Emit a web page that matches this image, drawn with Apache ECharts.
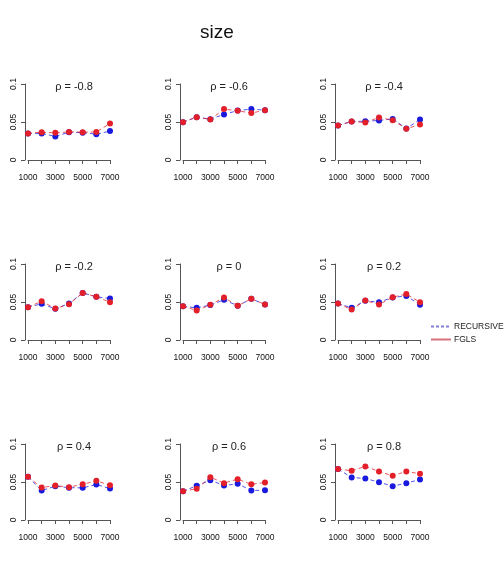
<!DOCTYPE html>
<html><head><meta charset="utf-8">
<script src="https://cdn.jsdelivr.net/npm/echarts@6/dist/echarts.min.js"></script>
<style>html,body{margin:0;padding:0;background:#fff}#c{width:504px;height:570px}</style>
</head><body><div id="c"></div>
<script>
const sampleSizes = [1000, 2000, 3000, 4000, 5000, 6000, 7000];
const xTickLabels = ['1000', '3000', '5000', '7000'];
const yTickLabels = ['0', '0.05', '0.1'];
const rhoTitles = ['ρ = -0.8', 'ρ = -0.6', 'ρ = -0.4', 'ρ = -0.2', 'ρ = 0', 'ρ = 0.2', 'ρ = 0.4', 'ρ = 0.6', 'ρ = 0.8'];

const recursive_m08 = [0.035, 0.035, 0.031, 0.0366, 0.036, 0.034, 0.038];
const fgls_m08      = [0.035, 0.0366, 0.0357, 0.037, 0.0366, 0.037, 0.048];
const recursive_m06 = [0.0498, 0.0564, 0.0537, 0.060, 0.065, 0.067, 0.0656];
const fgls_m06      = [0.0498, 0.0564, 0.0533, 0.067, 0.0648, 0.0617, 0.0656];
const recursive_m04 = [0.0454, 0.0507, 0.051, 0.052, 0.054, 0.0414, 0.0533];
const fgls_m04      = [0.0454, 0.0507, 0.0493, 0.056, 0.0524, 0.041, 0.0467];
const recursive_m02 = [0.0432, 0.0476, 0.041, 0.048, 0.062, 0.0568, 0.0546];
const fgls_m02      = [0.0432, 0.051, 0.0414, 0.047, 0.062, 0.0568, 0.0498];
const recursive_0   = [0.0445, 0.0423, 0.046, 0.0529, 0.045, 0.0542, 0.0467];
const fgls_0        = [0.0445, 0.0388, 0.0463, 0.056, 0.045, 0.0542, 0.0467];
const recursive_p02 = [0.048, 0.0423, 0.0515, 0.0498, 0.056, 0.058, 0.0463];
const fgls_p02      = [0.048, 0.040, 0.052, 0.0467, 0.0564, 0.0604, 0.0498];
const recursive_p04 = [0.0568, 0.0388, 0.0445, 0.0425, 0.0423, 0.0467, 0.0414];
const fgls_p04      = [0.0568, 0.0427, 0.0454, 0.0432, 0.047, 0.0515, 0.0458];
const recursive_p06 = [0.0379, 0.045, 0.0524, 0.0454, 0.0476, 0.0388, 0.0392];
const fgls_p06      = [0.0379, 0.041, 0.0564, 0.0485, 0.0537, 0.047, 0.0493];
const recursive_p08 = [0.067, 0.056, 0.0546, 0.0498, 0.0445, 0.0485, 0.0533];
const fgls_p08      = [0.067, 0.0648, 0.0705, 0.0639, 0.0581, 0.0639, 0.0608];

const panels = [
  [recursive_m08, fgls_m08], [recursive_m06, fgls_m06], [recursive_m04, fgls_m04],
  [recursive_m02, fgls_m02], [recursive_0, fgls_0], [recursive_p02, fgls_p02],
  [recursive_p04, fgls_p04], [recursive_p06, fgls_p06], [recursive_p08, fgls_p08]
];

const FONT = 'Liberation Sans, Arial, sans-serif';
const BLUE = '#1a1adf', RED = '#e3202a';
const colLeft = [28, 183, 338], rowTop = [84, 264, 444];
const gw = 82, gh = 76;

const grids = [], xAxes = [], yAxes = [], series = [], titles = [];
titles.push({text: 'size', left: 212, top: 18, textAlign: 'center',
  textStyle: {fontFamily: FONT, fontSize: 19, fontWeight: 'normal', color: '#111'}});
panels.forEach((p, i) => {
  const r = Math.floor(i / 3), c = i % 3;
  grids.push({left: colLeft[c], top: rowTop[r], width: gw, height: gh});
  xAxes.push({type: 'value', gridIndex: i, min: 1000, max: 7000, interval: 1000, offset: 4,
    axisLine: {lineStyle: {color: '#555', width: 1}},
    axisTick: {length: 4, lineStyle: {color: '#555'}},
    splitLine: {show: false},
    axisLabel: {margin: 9, fontFamily: FONT, fontSize: 8.5, color: '#111', showMinLabel: true, showMaxLabel: true,
      formatter: v => xTickLabels.indexOf(String(v)) >= 0 ? String(v) : ''}});
  yAxes.push({type: 'value', gridIndex: i, min: 0, max: 0.1, interval: 0.05, offset: 3,
    axisLine: {show: true, lineStyle: {color: '#555', width: 1}},
    axisTick: {show: true, length: 4, lineStyle: {color: '#555'}},
    splitLine: {show: false},
    axisLabel: {rotate: 90, margin: 7, fontFamily: FONT, fontSize: 8.5, color: '#111',
      formatter: v => yTickLabels[Math.round(v / 0.05)]}});
  titles.push({text: rhoTitles[i], left: colLeft[c] + gw / 2, top: rowTop[r] - 8, textAlign: 'center',
    textStyle: {fontFamily: FONT, fontSize: 11, fontWeight: 'normal', color: '#222'}});
  series.push({type: 'line', name: 'rec' + i, xAxisIndex: i, yAxisIndex: i,
    data: sampleSizes.map((x, k) => [x, p[0][k]]),
    symbol: 'circle', symbolSize: 6, itemStyle: {color: BLUE},
    lineStyle: {color: BLUE, width: 1, type: [4, 3], opacity: 0.75}, z: 2, silent: true, animation: false});
  series.push({type: 'line', name: 'fgls' + i, xAxisIndex: i, yAxisIndex: i,
    data: sampleSizes.map((x, k) => [x, p[1][k]]),
    symbol: 'circle', symbolSize: 6, itemStyle: {color: RED},
    lineStyle: {color: RED, width: 1, type: [4, 3], opacity: 0.75}, z: 3, silent: true, animation: false});
});
series.push({type: 'line', name: 'RECURSIVE', xAxisIndex: 0, yAxisIndex: 0, data: [], symbol: 'none',
  lineStyle: {color: '#6a6ad2', width: 1, type: [3, 2]}, itemStyle: {color: '#6a6ad2'}});
series.push({type: 'line', name: 'FGLS', xAxisIndex: 0, yAxisIndex: 0, data: [], symbol: 'none',
  lineStyle: {color: '#cc5a64', width: 1}, itemStyle: {color: '#cc5a64'}});

const chart = echarts.init(document.getElementById('c'), null, {renderer: 'canvas'});
chart.setOption({
  animation: false,
  backgroundColor: '#fff',
  title: titles,
  grid: grids, xAxis: xAxes, yAxis: yAxes, series: series,
  legend: {data: ['RECURSIVE', 'FGLS'], orient: 'vertical', left: 430, top: 322, padding: 0,
    itemWidth: 20, itemHeight: 8, itemGap: 4,
    itemStyle: {opacity: 0},
    lineStyle: {opacity: 0.85},
    textStyle: {fontFamily: FONT, fontSize: 8.5, color: '#222', padding: [0, 0, 0, -2]}, selectedMode: false}
});
</script></body></html>
